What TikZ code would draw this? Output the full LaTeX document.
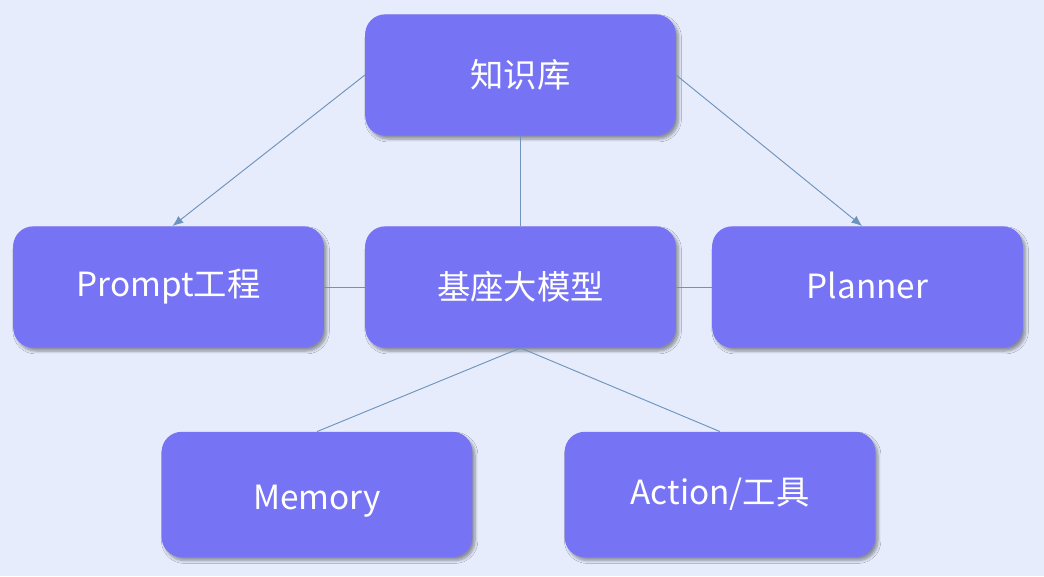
\documentclass[tikz,border=0pt]{standalone}
\usepackage{fontspec}
\setmainfont{Noto Sans CJK SC}
\usetikzlibrary{arrows.meta,shadows.blur}
\definecolor{bgc}{HTML}{E6ECFC}
\definecolor{boxc}{HTML}{7773F5}
\definecolor{linec}{HTML}{6E93BC}
\begin{document}
\begin{tikzpicture}[x=0.75pt,y=-0.75pt,
  box/.style={draw=none,fill=boxc,rounded corners=15pt,text=white,
    font=\fontsize{25}{30}\selectfont,minimum width=233pt,minimum height=91pt,
    blur shadow={shadow xshift=2pt,shadow yshift=-2.5pt,shadow blur steps=6,shadow blur extra rounding=1.5pt,shadow opacity=40}},
  tallbox/.style={box,minimum height=94pt},
  conn/.style={draw=linec,line width=0.7pt},
  arr/.style={conn,-{Latex[length=8pt,width=6.5pt]}}]
\fill[bgc] (0,0) rectangle (1044,576);
\useasboundingbox (0,0) rectangle (1044,576);
\node[box] (zs) at (520.5,75) {知识库};
\node[box] (pe) at (168.5,287) {Prompt工程};
\node[box] (jz) at (520.5,287) {基座大模型};
\node[box] (pl) at (867.5,287) {\raisebox{1.5pt}[\height][\depth]{Planner}};
\node[tallbox] (mem) at (317,494.5) {\raisebox{-5pt}[\height][\depth]{Memory}};
\node[tallbox] (act) at (720,494.5) {Action/工具};
\draw[arr] (zs.west) -- ([xshift=3pt]pe.north);
\draw[arr] (zs.east) -- ([xshift=-4pt]pl.north);
\draw[conn] (zs.south) -- (jz.north);
\draw[conn] (pe.east) -- (jz.west);
\draw[conn] (jz.east) -- (pl.west);
\draw[conn] (jz.south) -- (mem.north);
\draw[conn] (jz.south) -- (act.north);
\end{tikzpicture}
\end{document}
